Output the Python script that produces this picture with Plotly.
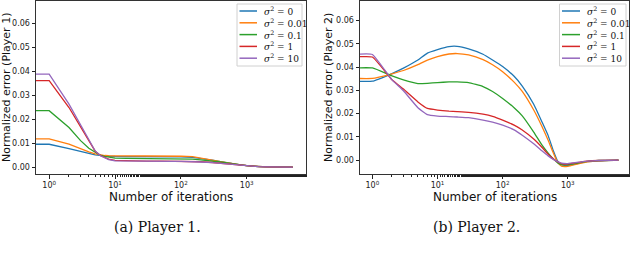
import plotly.graph_objects as go

# ---------------- data ----------------
SERIES_NAMES = ["0", "0.01", "0.1", "1", "10"]
COLORS = ["#1f77b4", "#ff7f0e", "#2ca02c", "#d62728", "#9467bd"]

ITER_P1 = [0.5, 1, 2, 3, 4, 5, 6, 7, 8, 10, 15, 20, 30, 50, 70, 100, 150, 200, 300,
           400, 500, 600, 700, 800, 1000, 1500, 2000, 3000, 5000]
P1_S0 = [0.0095, 0.0095, 0.0077, 0.0064, 0.0057, 0.0051, 0.0048, 0.0046, 0.0045, 0.0044,
         0.0044, 0.0044, 0.0044, 0.0044, 0.0043, 0.0042, 0.0040, 0.0036, 0.0029, 0.0022,
         0.0017, 0.0014, 0.0011, 0.0009, 0.0006, 0.0002, 0.0001, 0.0, 0.0]
P1_S001 = [0.0117, 0.0117, 0.0095, 0.0075, 0.0063, 0.0055, 0.0050, 0.0048, 0.0047, 0.0047,
           0.0047, 0.0047, 0.0046, 0.0046, 0.0046, 0.0045, 0.0043, 0.0038, 0.0031, 0.0023,
           0.0018, 0.0014, 0.0011, 0.0009, 0.0006, 0.0002, 0.0001, 0.0, 0.0]
P1_S01 = [0.0235, 0.0235, 0.0165, 0.0110, 0.0078, 0.0060, 0.0049, 0.0044, 0.0041, 0.0037,
          0.0036, 0.0036, 0.0036, 0.0035, 0.0035, 0.0035, 0.0033, 0.0030, 0.0026, 0.0021,
          0.0017, 0.0014, 0.0011, 0.0009, 0.0006, 0.0002, 0.0001, 0.0, 0.0]
P1_S1 = [0.0360, 0.0360, 0.0248, 0.0167, 0.0106, 0.0066, 0.0048, 0.0039, 0.0033, 0.0028,
         0.0026, 0.0025, 0.0025, 0.0025, 0.0025, 0.0025, 0.0024, 0.0022, 0.0019, 0.0016,
         0.0013, 0.0011, 0.0009, 0.0008, 0.0005, 0.0002, 0.0001, 0.0, 0.0]
P1_S10 = [0.0387, 0.0387, 0.0262, 0.0174, 0.0109, 0.0067, 0.0047, 0.0037, 0.0031, 0.0026,
          0.0025, 0.0025, 0.0024, 0.0024, 0.0024, 0.0024, 0.0023, 0.0021, 0.0018, 0.0015,
          0.0013, 0.0011, 0.0009, 0.0007, 0.0005, 0.0002, 0.0001, 0.0, 0.0]

ITER_P2 = [0.5, 1, 2, 3, 5, 7, 10, 15, 20, 30, 50, 70, 100, 150, 200, 300, 400, 500,
           600, 700, 800, 1000, 1500, 2000, 3000, 6000]
P2_S0 = [0.0339, 0.0339, 0.0372, 0.0395, 0.0430, 0.0460, 0.0475, 0.0488, 0.0489, 0.0478,
         0.0455, 0.0430, 0.0402, 0.0360, 0.0318, 0.0240, 0.0165, 0.0105, 0.0040, -0.0005,
         -0.0020, -0.0024, -0.0013, -0.0007, -0.0003, 0.0]
P2_S001 = [0.0351, 0.0351, 0.0371, 0.0385, 0.0410, 0.0430, 0.0445, 0.0456, 0.0458, 0.0452,
           0.0432, 0.0410, 0.0380, 0.0335, 0.0295, 0.0215, 0.0145, 0.0085, 0.0030, -0.0010,
           -0.0026, -0.0027, -0.0015, -0.0008, -0.0003, 0.0]
P2_S01 = [0.0396, 0.0396, 0.0362, 0.0345, 0.0329, 0.0330, 0.0333, 0.0336, 0.0336, 0.0333,
          0.0316, 0.0295, 0.0265, 0.0225, 0.0190, 0.0120, 0.0065, 0.0030, 0.0005, -0.0012,
          -0.0020, -0.0020, -0.0012, -0.0006, -0.0002, 0.0]
P2_S1 = [0.0443, 0.0443, 0.0345, 0.0305, 0.0250, 0.0222, 0.0215, 0.0210, 0.0208, 0.0205,
         0.0197, 0.0188, 0.0172, 0.0150, 0.0129, 0.0090, 0.0055, 0.0025, 0.0005, -0.0008,
         -0.0015, -0.0017, -0.0010, -0.0005, -0.0002, 0.0]
P2_S10 = [0.0454, 0.0454, 0.0345, 0.0298, 0.0225, 0.0195, 0.0189, 0.0187, 0.0185, 0.0182,
          0.0172, 0.0163, 0.0150, 0.0130, 0.0107, 0.0070, 0.0040, 0.0018, 0.0003, -0.0007,
          -0.0013, -0.0015, -0.0009, -0.0005, -0.0002, 0.0]

P1_SERIES = [P1_S0, P1_S001, P1_S01, P1_S1, P1_S10]
P2_SERIES = [P2_S0, P2_S001, P2_S01, P2_S1, P2_S10]

X_TICKS = [1, 10, 100, 1000]
X_TICKTEXT = ["10<sup>0</sup>", "10<sup>1</sup>", "10<sup>2</sup>", "10<sup>3</sup>"]
Y_TICKS = [0.00, 0.01, 0.02, 0.03, 0.04, 0.05, 0.06]
Y_TICKTEXT = ["0.00", "0.01", "0.02", "0.03", "0.04", "0.05", "0.06"]

# ---------------- figure ----------------
W, H = 640, 255
fig = go.Figure()

for vals, name, col in zip(P1_SERIES, SERIES_NAMES, COLORS):
    fig.add_trace(go.Scatter(x=ITER_P1, y=vals, mode="lines", name=name,
                             line=dict(color=col, width=1.3),
                             xaxis="x", yaxis="y", showlegend=False))
for vals, name, col in zip(P2_SERIES, SERIES_NAMES, COLORS):
    fig.add_trace(go.Scatter(x=ITER_P2, y=vals, mode="lines", name=name,
                             line=dict(color=col, width=1.3, shape="spline", smoothing=0.35),
                             xaxis="x2", yaxis="y2", showlegend=False))

tickfont = dict(family="DejaVu Sans", size=8, color="#222")
xtitlefont = dict(family="DejaVu Sans", size=12, color="#111")

def xax(domain, rng, anchor):
    return dict(domain=domain, type="log", range=rng, anchor=anchor,
                tickvals=X_TICKS, ticktext=X_TICKTEXT, tickfont=tickfont,
                ticks="outside", ticklen=3.5, tickcolor="#222", tickwidth=0.8,
                minor=dict(ticks="outside", ticklen=2, tickcolor="#222", tickwidth=0.6,
                           showgrid=False),
                showline=True, mirror=True, linecolor="#333", linewidth=1,
                showgrid=False, zeroline=False)

def yax(domain, rng, anchor, title):
    return dict(domain=domain, range=rng, anchor=anchor,
                tickvals=Y_TICKS, ticktext=Y_TICKTEXT, tickfont=tickfont,
                ticks="outside", ticklen=3.5, tickcolor="#222", tickwidth=0.8,
                showline=True, mirror=True, linecolor="#333", linewidth=1,
                showgrid=False, zeroline=False,
                title=dict(text=title, font=dict(family="DejaVu Sans", size=11, color="#111"),
                           standoff=1))

ydom = [1 - 174 / H, 1 - 0.5 / H]
fig.update_layout(
    width=W, height=H,
    margin=dict(l=0, r=0, t=0, b=0),
    paper_bgcolor="white", plot_bgcolor="white",
    xaxis=xax([36 / W, 306 / W], [-0.2, 3.9], "y"),
    yaxis=yax(ydom, [-0.0029, 0.0694], "x", "Normalized error (Player 1)"),
    xaxis2=xax([360 / W, 629 / W], [-0.19, 3.94], "y2"),
    yaxis2=yax(ydom, [-0.006, 0.0686], "x2", "Normalized error (Player 2)"),
    showlegend=False,
)

# x-axis titles and captions
for cx, txt in [(171, "Number of iterations"), (494.5, "Number of iterations")]:
    fig.add_annotation(x=cx / W, y=1 - 197 / H, xref="paper", yref="paper",
                       text=txt, showarrow=False, xanchor="center", yanchor="middle",
                       font=xtitlefont)
for cx, txt in [(157, "(a) Player 1."), (476, "(b) Player 2.")]:
    fig.add_annotation(x=cx / W, y=1 - 227 / H, xref="paper", yref="paper",
                       text=txt, showarrow=False, xanchor="center", yanchor="middle",
                       font=dict(family="DejaVu Serif", size=14, color="#111"))

# legends (drawn as boxes with line samples and labels)
def legend(box_l, box_r, line_l, line_r, text_l):
    top, bot = 4, 66
    fig.add_shape(type="rect", xref="paper", yref="paper",
                  x0=box_l / W, x1=box_r / W, y0=1 - bot / H, y1=1 - top / H,
                  line=dict(color="#d0d0d0", width=1), fillcolor="rgba(255,255,255,0.85)",
                  layer="above")
    for i, (name, col) in enumerate(zip(SERIES_NAMES, COLORS)):
        yy = 1 - (11 + i * 11.8) / H
        fig.add_shape(type="line", xref="paper", yref="paper",
                      x0=line_l / W, x1=line_r / W, y0=yy, y1=yy,
                      line=dict(color=col, width=1.5), layer="above")
        fig.add_annotation(x=text_l / W, y=yy, xref="paper", yref="paper",
                           text=f"<i>σ</i><sup>2</sup> = {name}", showarrow=False,
                           xanchor="left", yanchor="middle",
                           font=dict(family="DejaVu Serif", size=9, color="#111"))

legend(237, 302, 239.5, 257, 262)
legend(559.5, 626, 562, 580, 585)

fig.write_html("out.html", config={"displayModeBar": False},
               post_script="document.body.style.margin='0';")
